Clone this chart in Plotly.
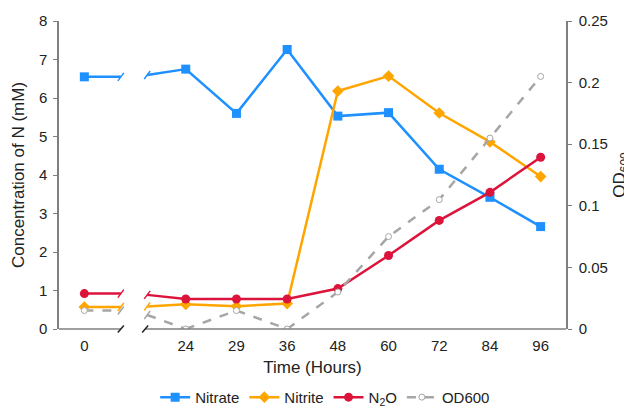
import plotly.graph_objects as go

# ---- data ----
time_labels = ["0", "24", "29", "36", "48", "60", "72", "84", "96"]
nitrate = [6.55, 6.75, 5.60, 7.26, 5.53, 5.62, 4.15, 3.42, 2.66]
nitrite = [0.57, 0.64, 0.59, 0.66, 6.18, 6.57, 5.61, 4.86, 3.96]
n2o = [0.92, 0.78, 0.78, 0.78, 1.05, 1.91, 2.82, 3.55, 4.46]
od600 = [0.015, 0.0, 0.015, 0.0, 0.030, 0.075, 0.105, 0.155, 0.205]

# category positions (slot 1 is the axis break between 0 and 24)
pos = [0] + list(range(2, 2 + len(time_labels) - 1))
BREAK_L, BREAK_R = 0.72, 1.24

FONT = "Liberation Sans, Arial, sans-serif"
AXIS_COLOR = "#7f7f7f"

series = [
    ("Nitrate", nitrate, "#1E90FF", dict(symbol="square", size=9), "solid", "y"),
    ("Nitrite", nitrite, "#FFA500", dict(symbol="diamond", size=9), "solid", "y"),
    ("N<sub>2</sub>O", n2o, "#DC143C", dict(symbol="circle", size=9), "solid", "y"),
    ("OD600", od600, "#A6A6A6",
     dict(symbol="circle", size=6, line=dict(width=1, color="#A6A6A6")), "dash", "y2"),
]

fig = go.Figure()
shapes = []
for name, vals, color, marker, dash, yax in series:
    v0, v24 = vals[0], vals[1]
    vb = v0 + (BREAK_R - 1) * (v24 - v0)
    # broken connector between 0 and 24
    fig.add_trace(go.Scatter(
        x=[pos[0], BREAK_L, None, BREAK_R, pos[1]],
        y=[v0, v0, None, vb, v24],
        mode="lines", line=dict(color=color, width=2.5, dash=dash),
        showlegend=False, hoverinfo="skip", yaxis=yax))
    mk = dict(marker)
    mk["color"] = "white" if name == "OD600" else color
    fig.add_trace(go.Scatter(
        x=[pos[0], None] + pos[1:],
        y=[vals[0], None] + vals[1:],
        mode="lines+markers", name=name,
        line=dict(color=color, width=2.5, dash=dash),
        marker=mk, yaxis=yax))
    yref = "y" if yax == "y" else "y2"
    for bx, by in [(BREAK_L, v0), (BREAK_R, vb)]:
        shapes.append(dict(type="line", xref="x", yref=yref,
                           xsizemode="pixel", ysizemode="pixel",
                           xanchor=bx, yanchor=by,
                           x0=-3, x1=3, y0=-4, y1=4,
                           line=dict(color=color, width=1.5)))

# x axis line with break
shapes.append(dict(type="line", xref="x", yref="paper", x0=-0.5, x1=BREAK_L, y0=0, y1=0,
                   line=dict(color=AXIS_COLOR, width=1.5)))
shapes.append(dict(type="line", xref="x", yref="paper", x0=BREAK_R - 0.04, x1=9.5, y0=0, y1=0,
                   line=dict(color=AXIS_COLOR, width=1.5)))
for bx in [BREAK_L, BREAK_R - 0.04]:
    shapes.append(dict(type="line", xref="x", yref="paper",
                       xsizemode="pixel", ysizemode="pixel",
                       xanchor=bx, yanchor=0,
                       x0=-3, x1=3, y0=-3.5, y1=3.5,
                       line=dict(color="#222222", width=1.5)))

# page body has an 8px default margin, so the figure is sized to fit the window
fig.update_layout(
    width=624, height=401,
    margin=dict(l=51, r=66, t=13, b=80, autoexpand=False),
    paper_bgcolor="white", plot_bgcolor="white",
    font=dict(family=FONT, size=15, color="#222222"),
    showlegend=True,
    legend=dict(orientation="h", x=0.525, xanchor="center", y=-0.222, yanchor="middle",
                font=dict(size=15), traceorder="normal"),
    xaxis=dict(range=[-0.5, 9.5], tickmode="array", tickvals=pos, ticktext=time_labels,
               showline=False, showgrid=False, zeroline=False, ticks="",
               ticklabelstandoff=6, automargin=False,
               title=dict(text="Time (Hours)", font=dict(size=17), standoff=8)),
    yaxis=dict(range=[0, 8], dtick=1, showline=True, linecolor=AXIS_COLOR, linewidth=1.5,
               ticks="outside", ticklen=4, tickcolor=AXIS_COLOR, showgrid=False,
               zeroline=False, ticklabelstandoff=3, automargin=False,
               title=dict(text="Concentration of N (mM)", font=dict(size=17), standoff=10)),
    yaxis2=dict(range=[0, 0.25], dtick=0.05, overlaying="y", side="right",
                showline=True, linecolor=AXIS_COLOR, linewidth=1.5,
                ticks="outside", ticklen=4, tickcolor=AXIS_COLOR, showgrid=False,
                zeroline=False, ticklabelstandoff=4, automargin=False,
                title=dict(text="OD<sub>600</sub>", font=dict(size=17), standoff=8)),
    shapes=shapes,
)

fig.write_html("out.html")
